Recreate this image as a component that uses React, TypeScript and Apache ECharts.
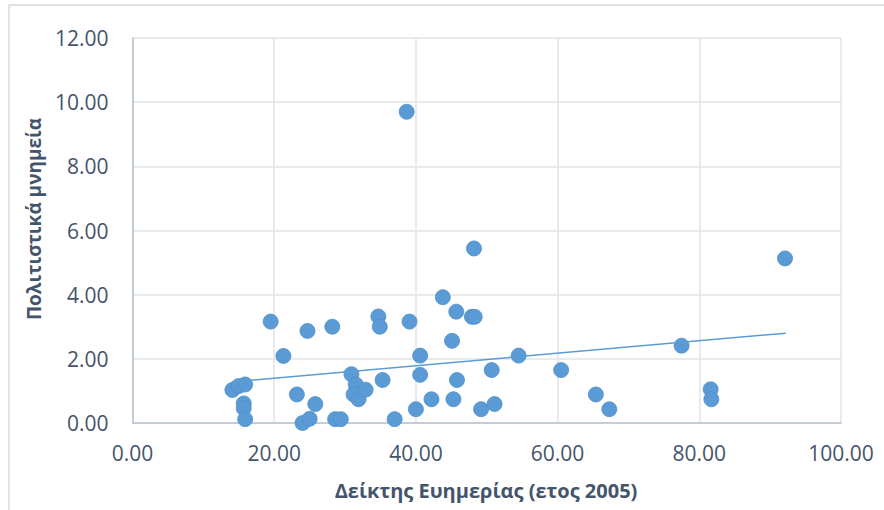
import React, { useEffect, useRef } from "react";
import * as echarts from "echarts";

const xValues = [
  14.1, 15.0, 15.9, 15.7, 15.7, 15.9, 19.5, 21.3, 23.2, 24.0, 25.0, 24.7, 25.8, 28.2, 28.6, 29.4,
  30.9, 31.5, 31.2, 31.9, 32.9, 34.7, 34.9, 35.3, 37.0, 38.7, 39.1, 40.0, 40.6, 40.6, 42.2, 43.8,
  45.1, 45.3, 45.7, 45.8, 47.9, 48.3, 48.2, 49.2, 50.7, 51.1, 54.5, 60.5, 65.4, 67.3, 77.5, 81.6,
  81.7, 92.1,
];
const yValues = [
  1.03, 1.15, 1.2, 0.61, 0.46, 0.12, 3.16, 2.09, 0.89, 0.0, 0.13, 2.87, 0.59, 3.0, 0.12, 0.12,
  1.52, 1.2, 0.89, 0.74, 1.04, 3.32, 3.0, 1.34, 0.12, 9.7, 3.16, 0.43, 2.1, 1.5, 0.74, 3.92,
  2.56, 0.74, 3.47, 1.34, 3.31, 3.31, 5.44, 0.43, 1.65, 0.59, 2.1, 1.65, 0.89, 0.43, 2.41, 1.05,
  0.74, 5.13,
];
const trendX = [14.0, 92.2];
const trendY = [1.28, 2.8];

const xTitle = "Δείκτης Ευημερίας (ετος 2005)";
const yTitle = "Πολιτιστικά μνημεία";

const TEXT = "#44546a";
const FONT = "'Open Sans', 'Noto Sans', sans-serif";

export default function App() {
  const ref = useRef<HTMLDivElement>(null);
  useEffect(() => {
    if (!ref.current) return;
    const chart = echarts.init(ref.current, undefined, { renderer: "svg" });
    chart.setOption({
      animation: false,
      backgroundColor: "#ffffff",
      grid: { left: 132.5, right: 43, top: 38, bottom: 87, containLabel: false },
      xAxis: {
        type: "value",
        min: 0,
        max: 100,
        interval: 20,
        axisLine: { show: true, lineStyle: { color: "#b9c2d0", width: 1.5 } },
        axisTick: { show: false },
        splitLine: { show: true, lineStyle: { color: "#e1e4e9", width: 1.5 } },
        axisLabel: {
          color: TEXT,
          fontFamily: FONT,
          fontSize: 21,
          margin: 19,
          formatter: (v: number) => v.toFixed(2),
        },
      },
      yAxis: {
        type: "value",
        min: 0,
        max: 12,
        interval: 2,
        axisLine: { show: true, lineStyle: { color: "#b9c2d0", width: 1.5 } },
        axisTick: { show: false },
        splitLine: { show: true, lineStyle: { color: "#e1e4e9", width: 1.5 } },
        axisLabel: {
          color: TEXT,
          fontFamily: FONT,
          fontSize: 21,
          margin: 24,
          formatter: (v: number) => v.toFixed(2),
        },
      },
      graphic: [
        {
          type: "rect",
          shape: { x: 9, y: 5, width: 900, height: 600 },
          style: { fill: "none", stroke: "#d9d9d9", lineWidth: 1.5 },
          silent: true,
          z: -1,
        },
        {
          type: "text",
          x: 486,
          y: 490,
          style: {
            text: xTitle,
            fill: TEXT,
            font: `bold 20px ${FONT}`,
            align: "center",
            verticalAlign: "middle",
          },
        },
        {
          type: "text",
          x: 34,
          y: 219,
          rotation: Math.PI / 2,
          style: {
            text: yTitle,
            fill: TEXT,
            font: `bold 19px ${FONT}`,
            align: "center",
            verticalAlign: "middle",
          },
        },
      ],
      series: [
        {
          type: "scatter",
          data: xValues.map((x, i) => [x, yValues[i]]),
          symbolSize: 15,
          itemStyle: {
            color: "#5b9bd5",
            borderColor: "#4f8fca",
            borderWidth: 0.8,
            opacity: 1,
          },
          z: 3,
        },
        {
          type: "line",
          data: trendX.map((x, i) => [x, trendY[i]]),
          showSymbol: false,
          symbol: "none",
          lineStyle: { color: "#5b9bd5", width: 1.5 },
          z: 4,
        },
      ],
    });
    return () => chart.dispose();
  }, []);
  return (
    <div
      ref={ref}
      style={{ position: "fixed", left: 0, top: 0, width: 884, height: 510 }}
    />
  );
}
